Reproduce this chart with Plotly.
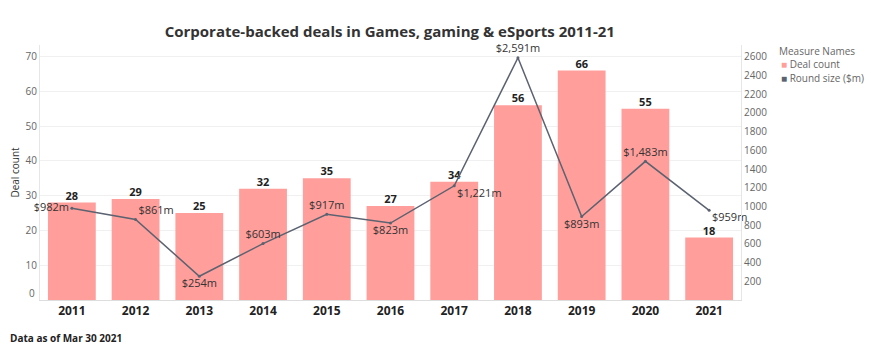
import plotly.graph_objects as go

years = ["2011", "2012", "2013", "2014", "2015", "2016", "2017", "2018", "2019", "2020", "2021"]
deal_count = [28, 29, 25, 32, 35, 27, 34, 56, 66, 55, 18]
round_size = [982, 861, 254, 603, 917, 823, 1221, 2591, 893, 1483, 959]
left_ticks = [10, 20, 30, 40, 50, 60, 70]
right_ticks = [200, 400, 600, 800, 1000, 1200, 1400, 1600, 1800, 2000, 2200, 2400, 2600]
line_label_pos = ["middle left", "top right", "bottom center", "top center", "top center",
                  "bottom center", "bottom right", "top center", "bottom center", "top center",
                  "bottom right"]
legend_title = "Measure Names"
legend_names = ["Deal count", "Round size ($m)"]

FONT = "Open Sans, Segoe UI, sans-serif"
BAR_COLOR = "#FF9E9B"
LINE_COLOR = "#5B6270"
legend_colors = [BAR_COLOR, LINE_COLOR]

fig = go.Figure()
fig.add_trace(go.Bar(
    x=years, y=deal_count, name="Deal count", marker_color=BAR_COLOR,
    marker_line_width=0, showlegend=False, hoverinfo="x+y",
))
fig.add_trace(go.Scatter(
    x=years, y=deal_count, mode="text", texttemplate="<b>%{y}</b>",
    textposition="top center", textfont=dict(size=11, color="#222", family=FONT),
    cliponaxis=False, showlegend=False, hoverinfo="skip",
))
fig.add_trace(go.Scatter(
    x=years, y=round_size, yaxis="y2", mode="lines+markers+text",
    line=dict(color=LINE_COLOR, width=1.5), marker=dict(size=3, color=LINE_COLOR),
    text=[f"${v:,}m" for v in round_size], textposition=line_label_pos,
    textfont=dict(size=11, color="#333", family=FONT), cliponaxis=False,
    showlegend=False, name="Round size ($m)",
))

annotations = [
    dict(text="<b>Data as of Mar 30 2021</b>", xref="paper", yref="paper",
         x=-0.046, y=-0.149, xanchor="left", yanchor="middle", showarrow=False,
         font=dict(size=10, color="#222", family=FONT)),
    dict(text="0", xref="paper", yref="y", x=0, y=0, xanchor="right", yanchor="middle",
         xshift=-3, yshift=7, showarrow=False, font=dict(size=10, color="#666", family=FONT)),
    dict(text=legend_title, xref="paper", yref="paper", x=1.053, y=0.976,
         xanchor="left", yanchor="middle", showarrow=False, borderpad=0,
         font=dict(size=10, color="#666", family=FONT)),
]
for i, (nm, col) in enumerate(zip(legend_names, legend_colors)):
    annotations.append(dict(
        text=f"<span style='color:{col}'>■</span> {nm}",
        xref="paper", yref="paper", x=1.055, y=0.924 - i * 0.052,
        xanchor="left", yanchor="middle", showarrow=False, borderpad=0,
        font=dict(size=10, color="#666", family=FONT)))

fig.update_layout(
    width=876, height=355,
    margin=dict(l=40, r=135, t=45, b=55),
    paper_bgcolor="white", plot_bgcolor="white",
    font=dict(family=FONT, size=10, color="#666"),
    bargap=0.25,
    showlegend=False,
    title=dict(text="<b>Corporate-backed deals in Games, gaming & eSports 2011-21</b>",
               x=0.445, xanchor="center", y=0.91, yanchor="middle", automargin=False,
               font=dict(size=15, color="#333", family=FONT)),
    xaxis=dict(type="category", range=[-0.5, len(years) - 0.5], showgrid=False,
               showline=True, linecolor="#ddd",
               tickfont=dict(size=12, color="#222", family=FONT), ticks="",
               tickprefix="<b>", ticksuffix="</b>", automargin=False),
    yaxis=dict(range=[0, 73.3], tickvals=left_ticks, showgrid=True, gridcolor="#f0f0f0",
               zeroline=False, showline=True, linecolor="#e6e6e6", automargin=False,
               title=dict(text="Deal count", font=dict(size=10, color="#333"), standoff=4),
               tickfont=dict(size=10, color="#666")),
    yaxis2=dict(range=[0, 2727], tickvals=right_ticks, overlaying="y", side="right",
                showgrid=False, zeroline=False, showline=True, linecolor="#e6e6e6",
                automargin=False, tickfont=dict(size=10, color="#666")),
    annotations=annotations,
)
fig.write_html(
    "out.html",
    config={"responsive": False, "displayModeBar": False},
    post_script="document.body.style.margin='0px';document.body.style.overflow='hidden';",
)
